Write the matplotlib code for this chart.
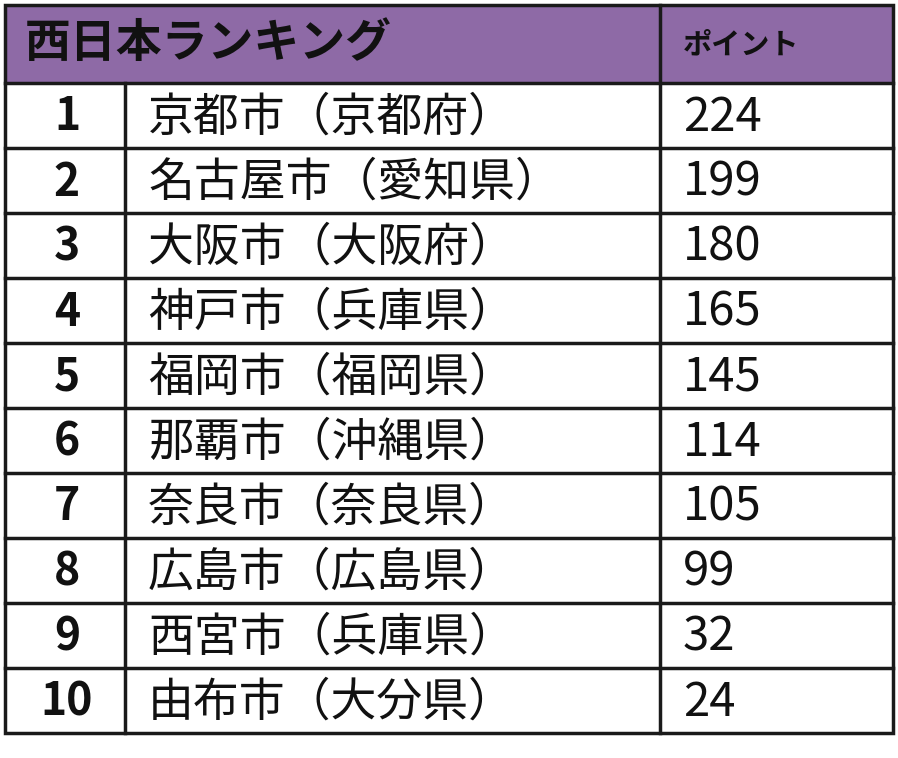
import matplotlib
matplotlib.use("Agg")
import matplotlib.pyplot as plt
from matplotlib.patches import Rectangle

plt.rcParams['font.family'] = ['Noto Sans CJK JP', 'DejaVu Sans']

title = "西日本ランキング"
value_header = "ポイント"
ranks = ["1", "2", "3", "4", "5", "6", "7", "8", "9", "10"]
cities = ["京都市（京都府）", "名古屋市（愛知県）", "大阪市（大阪府）", "神戸市（兵庫県）",
          "福岡市（福岡県）", "那覇市（沖縄県）", "奈良市（奈良県）", "広島市（広島県）",
          "西宮市（兵庫県）", "由布市（大分県）"]
points = [224, 199, 180, 165, 145, 114, 105, 99, 32, 24]

W, H = 898, 758
fig = plt.figure(figsize=(W/100, H/100), dpi=100)
ax = fig.add_axes([0, 0, 1, 1])
ax.set_xlim(0, W); ax.set_ylim(H, 0); ax.axis('off')

left, right, top, hb = 5, 893, 5, 83
rh = 65
c1, c2 = 125, 660
bottom = hb + rh*len(ranks)
purple = "#8e6aa6"
lw = 2.5

ax.add_patch(Rectangle((left, top), right-left, hb-top, facecolor=purple, edgecolor='none'))
ax.add_patch(Rectangle((left, top), right-left, bottom-top, facecolor='none', edgecolor='#1a1a1a', lw=lw))
ax.plot([left, right], [hb, hb], color='#1a1a1a', lw=lw)
ax.plot([c2, c2], [top, bottom], color='#1a1a1a', lw=lw)
ax.plot([c1, c1], [hb, bottom], color='#1a1a1a', lw=lw)
for i in range(1, len(ranks)):
    y = hb + rh*i
    ax.plot([left, right], [y, y], color='#1a1a1a', lw=lw)

ax.text(25, (top+hb)/2, title, fontsize=33, fontweight='bold', va='center', ha='left', color='#111')
ax.text(683, (top+hb)/2, value_header, fontsize=21, fontweight='bold', va='center', ha='left', color='#111')
for i, (r, c, p) in enumerate(zip(ranks, cities, points)):
    yc = hb + rh*i + rh/2 + 2
    ax.text((left+c1)/2 + 2, yc, r, fontsize=32, fontweight='bold', ha='center', va='center', color='#111')
    ax.text(148, yc, c, fontsize=33, ha='left', va='center', color='#111')
    ax.text(683, yc, str(p), fontsize=34, ha='left', va='center', color='#111')

fig.savefig("out.png", dpi=100)
